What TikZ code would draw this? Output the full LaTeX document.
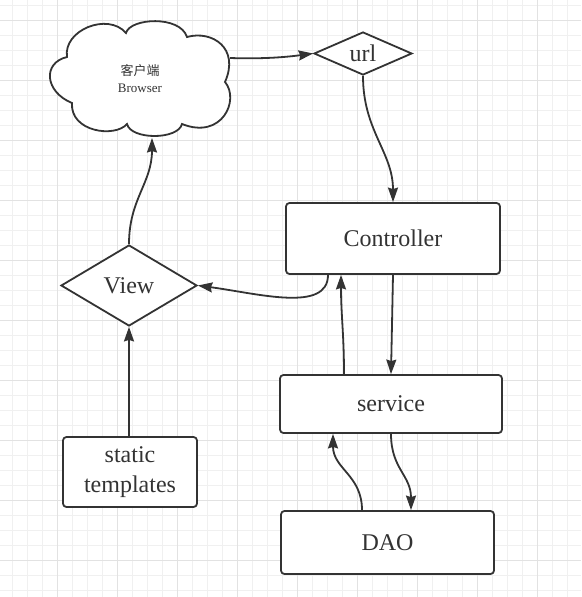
\documentclass[tikz,border=0pt]{standalone}
\usepackage{fontspec}
\setmainfont{Liberation Serif}
\newfontfamily\cjk{Noto Sans CJK SC}
\usetikzlibrary{shapes.geometric,arrows.meta,calc}
\definecolor{ink}{HTML}{333333}
\definecolor{gridminor}{HTML}{F0F0F0}
\definecolor{gridmajor}{HTML}{E2E2E2}
\begin{document}
\begin{tikzpicture}[x=1pt,y=-1pt,
  every node/.style={text=ink},
  box/.style={draw=ink, line width=1.8pt, rounded corners=3.5pt, fill=white,
    font=\fontsize{24}{30}\selectfont, align=center, inner sep=0pt},
  dia/.style={diamond, aspect=2, draw=ink, line width=1.8pt, fill=white,
    inner sep=0pt, font=\fontsize{24}{30}\selectfont},
  conn/.style={draw=ink, line width=1.8pt,
    -{Stealth[length=14.5pt,width=10pt,inset=1.5pt]}},
  gmin/.style={draw=gridminor, line width=1pt},
  gmaj/.style={draw=gridmajor, line width=1pt},
]
\useasboundingbox (0,0) rectangle (581,597);
\fill[white] (0,0) rectangle (581,597);
% grid
\foreach \i in {0,...,38} \draw[gmin] ({12.3+15*\i},0) -- ({12.3+15*\i},597);
\foreach \j in {0,...,39} \draw[gmin] (0,{5.7+15*\j}) -- (581,{5.7+15*\j});
\foreach \i in {0,...,8} \draw[gmaj] ({57.3+60*\i},0) -- ({57.3+60*\i},597);
\foreach \j in {0,...,9} \draw[gmaj] (0,{20.7+60*\j}) -- (581,{20.7+60*\j});

% cloud
\draw[draw=ink, line width=1.8pt, fill=white]
  (67,57) .. controls (63,30) and (108,12) .. (126,33)
  .. controls (130,18) and (180,15) .. (187,37)
  .. controls (212,30) and (240,48) .. (225,82)
  .. controls (240,100) and (222,140) .. (182,124)
  .. controls (178,140) and (131,140) .. (127,124)
  .. controls (115,138) and (70,132) .. (72,103)
  .. controls (45,92) and (42,63) .. (67,57) -- cycle;
\node[font=\fontsize{13}{17}\selectfont, align=center, inner sep=0pt,
  minimum width=180pt, minimum height=116pt] (cloud) at (140,78.5)
  {{\cjk 客户端}\\Browser};
\coordinate (cloudE) at (230,58);
\coordinate (cloudS) at (152,138);

% nodes
\node[dia, minimum width=98pt, minimum height=43pt] (url) at (363,53.5) {url};
\node[box, minimum width=214pt, minimum height=71pt] (ctrl) at (393,238.5) {Controller};
\node[dia, minimum width=136pt, minimum height=81pt] (view) at (129,285.5) {View};
\node[box, minimum width=222pt, minimum height=58pt] (service) at (391,404) {service};
\node[box, minimum width=134pt, minimum height=70pt] (static) at (130,472) {static\\templates};
\node[box, minimum width=213pt, minimum height=63pt] (dao) at (387.5,542.5) {DAO};

% connectors
\draw[conn] (cloudE) .. controls +(30,1) and +(-30,4) .. (url.west);
\draw[conn] (url.south) .. controls +(0,55) and +(0,-50) .. (ctrl.north);
\draw[conn] ($(ctrl.south)+(-65,0)$) .. controls +(0,38) and +(60,8) .. (view.east);
\draw[conn] (view.north) .. controls +(0,-45) and +(0,45) .. (cloudS);
\draw[conn] (static.north -| view.south) -- (view.south);
\draw[conn] (ctrl.south) -- (service.north);
\draw[conn] ($(service.north)+(-47,0)$) .. controls +(0,-40) and +(0,40) .. ($(ctrl.south)+(-52,0)$);
\draw[conn] ($(dao.north)+(-25.5,0)$) .. controls +(0,-35) and +(0,35) .. ($(service.south)+(-58,0)$);
\draw[conn] (service.south) .. controls +(0,35) and +(0,-35) .. ($(dao.north)+(23.5,0)$);
\end{tikzpicture}
\end{document}
